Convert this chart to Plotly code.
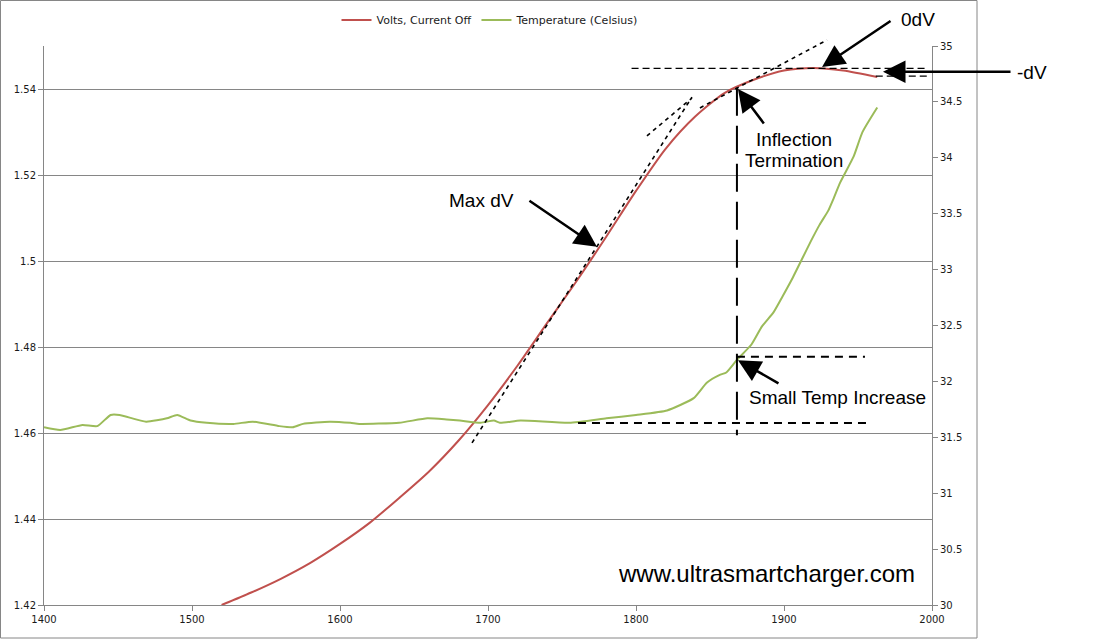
import plotly.graph_objects as go

# ---------------- data ----------------
volt_x = [1520, 1540, 1560, 1580, 1600, 1620, 1640, 1660, 1680, 1700, 1720, 1740,
          1760, 1780, 1800, 1820, 1840, 1860, 1880, 1900, 1920, 1940, 1963]
volt_v = [1.4200, 1.4229, 1.4261, 1.4298, 1.4342, 1.4391, 1.4449, 1.4510, 1.4582,
          1.4665, 1.4757, 1.4856, 1.4954, 1.5057, 1.5163, 1.5261, 1.5336, 1.5391,
          1.5422, 1.5443, 1.5449, 1.5443, 1.5428]

temp_x = [1400, 1411, 1426, 1436, 1445, 1451, 1469, 1483, 1490, 1499, 1510, 1528,
          1541, 1559, 1568, 1575, 1593, 1607, 1613, 1640, 1659, 1672, 1681, 1695,
          1704, 1708, 1722, 1755, 1780, 1800, 1821, 1839, 1848, 1857, 1861, 1868,
          1878, 1885, 1893, 1899, 1906, 1912, 1918, 1924, 1930, 1933, 1938, 1947,
          1953, 1963]
temp_c = [31.59, 31.565, 31.61, 31.60, 31.70, 31.70, 31.64, 31.67, 31.70, 31.65,
          31.63, 31.62, 31.64, 31.60, 31.59, 31.62, 31.64, 31.63, 31.62, 31.63,
          31.67, 31.66, 31.65, 31.63, 31.65, 31.63, 31.65, 31.63, 31.67, 31.70,
          31.74, 31.85, 31.99, 32.06, 32.08, 32.19, 32.33, 32.49, 32.62, 32.76,
          32.93, 33.09, 33.25, 33.40, 33.53, 33.62, 33.78, 34.01, 34.23, 34.45]

x_ticks = [1400, 1500, 1600, 1700, 1800, 1900, 2000]
x_labels = ["1400", "1500", "1600", "1700", "1800", "1900", "2000"]
y_ticks = [1.42, 1.44, 1.46, 1.48, 1.50, 1.52, 1.54]
y_labels = ["1.42", "1.44", "1.46", "1.48", "1.5", "1.52", "1.54"]
y2_ticks = [30, 30.5, 31, 31.5, 32, 32.5, 33, 33.5, 34, 34.5, 35]
y2_labels = ["30", "30.5", "31", "31.5", "32", "32.5", "33", "33.5", "34", "34.5", "35"]

X_RANGE = [1400, 2000]
Y_RANGE = [1.42, 1.55]
Y2_RANGE = [30, 35]

# guide-line end points (data units)
tangents = [  # (x0, v0, x1, v1)
    (1689.2, 1.4577, 1837.8, 1.5381),
    (1807.4, 1.5291, 1837.8, 1.5379),
    (1843.2, 1.5356, 1929.1, 1.5514),
]
peak_v, end_v = 1.5448, 1.5430
infl_x, infl_v, infl_low_v = 1868.2, 1.5403, 1.4595
temp_hi, temp_lo = 32.22, 31.628

# ---------------- layout geometry ----------------
W, H = 1100, 640
PL, PR, PT, PB = 44, 932, 46, 605
GRID = "#868686"
RED = "#C0504D"
GREEN = "#9BBB59"


def px(xp):
    return (xp - PL) / (PR - PL)


def py(yp):
    return (PB - yp) / (PB - PT)


def xd(x):
    return (x - X_RANGE[0]) / (X_RANGE[1] - X_RANGE[0])


def yd(v):
    return (v - Y_RANGE[0]) / (Y_RANGE[1] - Y_RANGE[0])


def y2d(t):
    return (t - Y2_RANGE[0]) / (Y2_RANGE[1] - Y2_RANGE[0])


fig = go.Figure()
fig.add_trace(go.Scatter(x=volt_x, y=volt_v, mode="lines", name="Volts, Current Off",
                         line=dict(color=RED, width=2, shape="spline", smoothing=0.7), yaxis="y"))
fig.add_trace(go.Scatter(x=temp_x, y=temp_c, mode="lines", name="Temperature (Celsius)",
                         line=dict(color=GREEN, width=2, shape="spline", smoothing=0.5), yaxis="y2"))

shapes = []
# outer chart border
shapes.append(dict(type="rect", xref="paper", yref="paper", x0=px(0.5), x1=px(977),
                   y0=py(638), y1=py(0.5), line=dict(color=GRID, width=1), layer="below"))
# tangent dotted lines
for (a, b, c, d) in tangents:
    shapes.append(dict(type="line", xref="paper", yref="paper", x0=xd(a), y0=yd(b),
                       x1=xd(c), y1=yd(d), line=dict(color="black", width=1.6, dash="4px,4px")))
# horizontal dV lines
shapes.append(dict(type="line", xref="paper", yref="paper", x0=xd(1797), y0=yd(peak_v),
                   x1=xd(1996.6), y1=yd(peak_v), line=dict(color="black", width=1.2, dash="7px,4px")))
shapes.append(dict(type="line", xref="paper", yref="paper", x0=xd(1962), y0=yd(end_v),
                   x1=xd(1996.6), y1=yd(end_v), line=dict(color="black", width=1.2, dash="7px,4px")))
# vertical long dash at inflection termination
shapes.append(dict(type="line", xref="paper", yref="paper", x0=xd(infl_x), y0=yd(infl_v),
                   x1=xd(infl_x), y1=yd(infl_low_v), line=dict(color="black", width=2, dash="28px,10px")))
# temperature horizontal dashed lines
shapes.append(dict(type="line", xref="paper", yref="paper", x0=xd(infl_x), y0=y2d(temp_hi),
                   x1=xd(1954.7), y1=y2d(temp_hi), line=dict(color="black", width=2, dash="8px,6px")))
shapes.append(dict(type="line", xref="paper", yref="paper", x0=xd(1760.8), y0=y2d(temp_lo),
                   x1=xd(1956.8), y1=y2d(temp_lo), line=dict(color="black", width=2, dash="8px,6px")))

TXT = dict(family="Liberation Sans, Arial, sans-serif", size=19, color="black")
annotations = []


def label(text, xp, yp, size=19):
    f = dict(TXT)
    f["size"] = size
    annotations.append(dict(text=text, xref="paper", yref="paper", x=px(xp), y=py(yp),
                            xanchor="center", yanchor="middle", showarrow=False, font=f))


def arrow(x, y, ax, ay):
    annotations.append(dict(text="", xref="paper", yref="paper", x=x, y=y, ax=ax, ay=ay,
                            showarrow=True, arrowhead=2, arrowsize=1.8, arrowwidth=2.5,
                            arrowcolor="black", standoff=0, startstandoff=0))


label("Max dV", 481, 200)
label("Inflection", 794, 139)
label("Termination", 794, 160)
label("0dV", 918, 19)
label("-dV", 1032, 73)
label("Small Temp Increase", 837, 397)
label("www.ultrasmartcharger.com", 766, 573, size=24)

arrow(xd(1773.6), yd(1.5033), -69, -47)
arrow(xd(1868.9), yd(1.5400), 27, 36)
arrow(xd(1925.7), yd(1.5451), 70, -47)
arrow(xd(1966.9), yd(1.5440), 129, 0)
arrow(xd(1868.9), y2d(32.19), 42, 24)

TICKF = dict(family="DejaVu Sans, Verdana, sans-serif", size=10, color="#1a1a1a")
AX = dict(showline=True, linecolor=GRID, linewidth=1, ticks="outside", ticklen=5,
          tickcolor=GRID, tickfont=TICKF, zeroline=False, automargin=False)

fig.update_layout(
    width=W, height=H,
    margin=dict(l=PL, r=W - PR, t=PT, b=H - PB, pad=0, autoexpand=False),
    paper_bgcolor="white", plot_bgcolor="white",
    xaxis=dict(range=X_RANGE, tickvals=x_ticks, ticktext=x_labels, showgrid=False, **AX),
    yaxis=dict(range=Y_RANGE, tickvals=y_ticks, ticktext=y_labels, showgrid=True,
               gridcolor=GRID, gridwidth=1, **AX),
    yaxis2=dict(range=Y2_RANGE, tickvals=y2_ticks, ticktext=y2_labels, overlaying="y",
                side="right", showgrid=False, **AX),
    legend=dict(orientation="h", x=px(490), y=py(20), xanchor="center", yanchor="middle",
                font=dict(family="DejaVu Sans, Verdana, sans-serif", size=11, color="#1a1a1a"),
                bgcolor="rgba(0,0,0,0)"),
    shapes=shapes,
    annotations=annotations,
    showlegend=True,
)

fig.write_html("out.html", config={"displayModeBar": False},
               post_script="document.body.style.margin='0px';")
